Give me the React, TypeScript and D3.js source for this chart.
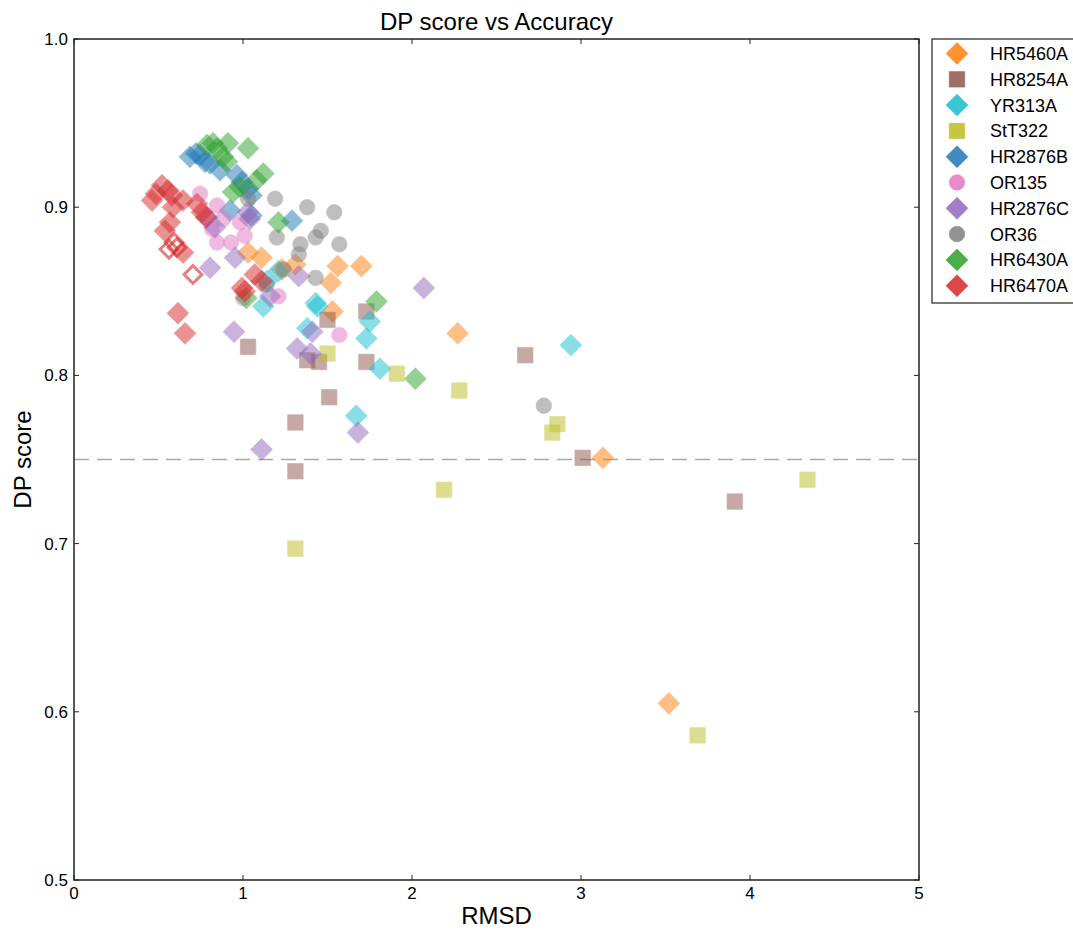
import React from "react";
import * as d3 from "d3";

// RMSD / DP score pairs per target
const hr5460a: [number, number][] = [
  [1.03, 0.873], [1.11, 0.870], [1.23, 0.863], [1.31, 0.866], [1.52, 0.855],
  [1.56, 0.865], [1.70, 0.865], [1.53, 0.838], [2.27, 0.825], [3.13, 0.751],
  [3.52, 0.605],
];
const hr8254a: [number, number][] = [
  [3.91, 0.725], [3.01, 0.751], [2.67, 0.812], [1.73, 0.808], [1.73, 0.838],
  [1.51, 0.787], [1.31, 0.772], [1.31, 0.743], [1.03, 0.817], [1.50, 0.833],
  [1.38, 0.809], [1.45, 0.808],
];
const yr313a: [number, number][] = [
  [2.94, 0.818], [1.81, 0.804], [1.67, 0.776], [1.73, 0.822], [1.75, 0.832],
  [1.44, 0.841], [1.43, 0.843], [1.38, 0.828], [1.12, 0.841], [1.21, 0.862],
  [1.14, 0.856],
];
const stt322: [number, number][] = [
  [4.34, 0.738], [3.69, 0.586], [2.86, 0.771], [2.83, 0.766], [2.28, 0.791],
  [2.19, 0.732], [1.91, 0.801], [1.50, 0.813], [1.31, 0.697],
];
const hr2876b: [number, number][] = [
  [0.686, 0.930], [0.722, 0.932], [0.746, 0.931], [0.775, 0.927], [0.805, 0.926],
  [0.864, 0.922], [0.964, 0.919], [0.994, 0.915], [1.03, 0.911], [1.05, 0.907],
  [0.923, 0.898], [1.29, 0.892], [1.05, 0.895],
];
const or135: [number, number][] = [
  [0.746, 0.908], [0.846, 0.901], [0.882, 0.893], [0.982, 0.891], [1.01, 0.883],
  [0.929, 0.879], [0.846, 0.879], [0.817, 0.887], [1.00, 0.846], [1.21, 0.847],
  [1.57, 0.824],
];
const hr2876c: [number, number][] = [
  [2.07, 0.852], [1.68, 0.766], [1.11, 0.756], [0.947, 0.826], [0.805, 0.864],
  [1.32, 0.816], [1.40, 0.813], [1.41, 0.826], [1.33, 0.859], [1.03, 0.897],
  [1.04, 0.893], [0.953, 0.870], [0.787, 0.894], [0.834, 0.888], [1.16, 0.847],
];
const or36: [number, number][] = [
  [1.19, 0.905], [1.38, 0.900], [1.54, 0.897], [1.46, 0.886], [1.43, 0.882],
  [1.34, 0.878], [1.20, 0.882], [1.33, 0.872], [1.57, 0.878], [1.43, 0.858],
  [1.24, 0.863], [1.14, 0.854], [1.03, 0.905], [2.78, 0.782],
];
const hr6430a: [number, number][] = [
  [0.787, 0.937], [0.822, 0.938], [0.846, 0.935], [0.911, 0.938], [1.03, 0.935],
  [0.882, 0.930], [0.905, 0.927], [1.12, 0.920], [1.08, 0.916], [0.941, 0.909],
  [0.982, 0.912], [1.21, 0.891], [1.79, 0.844], [2.02, 0.798], [1.02, 0.846],
];
const hr6470a: [number, number][] = [
  [0.462, 0.904], [0.485, 0.908], [0.521, 0.913], [0.556, 0.910], [0.580, 0.907],
  [0.645, 0.904], [0.586, 0.900], [0.568, 0.891], [0.538, 0.886], [0.645, 0.873],
  [0.728, 0.902], [0.757, 0.897], [0.781, 0.894], [0.994, 0.852], [1.01, 0.850],
  [0.615, 0.837], [0.657, 0.825], [1.07, 0.860], [1.11, 0.856],
];
// open markers for HR6470A
const hr6470aOpen: [number, number][] = [
  [0.562, 0.875], [0.592, 0.879], [0.609, 0.876], [0.704, 0.860],
];

const xTicks = [0, 1, 2, 3, 4, 5];
const yTicks = [0.5, 0.6, 0.7, 0.8, 0.9, 1.0];
const threshold = 0.75;

type Shape = "diamond" | "square" | "circle";
const seriesList: { name: string; color: string; shape: Shape; data: [number, number][] }[] = [
  { name: "HR5460A", color: "#ff7f0e", shape: "diamond", data: hr5460a },
  { name: "HR8254A", color: "#8c564b", shape: "square", data: hr8254a },
  { name: "YR313A", color: "#17becf", shape: "diamond", data: yr313a },
  { name: "StT322", color: "#bcbd22", shape: "square", data: stt322 },
  { name: "HR2876B", color: "#1f77b4", shape: "diamond", data: hr2876b },
  { name: "OR135", color: "#e377c2", shape: "circle", data: or135 },
  { name: "HR2876C", color: "#9467bd", shape: "diamond", data: hr2876c },
  { name: "OR36", color: "#7f7f7f", shape: "circle", data: or36 },
  { name: "HR6430A", color: "#2ca02c", shape: "diamond", data: hr6430a },
  { name: "HR6470A", color: "#d62728", shape: "diamond", data: hr6470a },
];

const W = 1073;
const H = 930;
const left = 74;
const right = 919;
const top = 39;
const bottom = 880;
const FONT = "'Liberation Sans', Arial, Helvetica, sans-serif";

const x = d3.scaleLinear().domain([0, 5]).range([left, right]);
const y = d3.scaleLinear().domain([0.5, 1.0]).range([bottom, top]);

const side = 15.5;
const squarePath = d3.symbol(d3.symbolSquare, side * side)() as string;
const circlePath = d3.symbol(d3.symbolCircle, Math.PI * 7.8 * 7.8)() as string;

function Marker({ shape, cx, cy, color, opacity, hollow }: {
  shape: Shape; cx: number; cy: number; color: string; opacity: number; hollow?: boolean;
}) {
  const d = shape === "circle" ? circlePath : squarePath;
  const rot = shape === "diamond" ? " rotate(45)" : "";
  const hs = hollow ? side - 3 : side;
  const path = hollow ? (d3.symbol(d3.symbolSquare, hs * hs)() as string) : d;
  return (
    <path
      d={path}
      transform={`translate(${cx},${cy})${rot}`}
      fill={hollow ? "none" : color}
      stroke={color}
      strokeWidth={hollow ? 3 : 0.6}
      opacity={opacity}
    />
  );
}

export default function App() {
  const tickLen = 5;
  const legendX = 932;
  const legendY = 39;
  const rowH = 25.8;
  return (
    <svg width={W} height={H} style={{ position: "absolute", left: 0, top: 0, background: "#fff" }}>
      <rect x={0} y={0} width={W} height={H} fill="#fff" />
      {/* threshold line */}
      <line
        x1={x(0)} x2={x(5)} y1={y(threshold)} y2={y(threshold)}
        stroke="#a8a8a8" strokeWidth={1.5} strokeDasharray="15 8"
      />
      {/* data points */}
      {seriesList.map((s) => (
        <g key={s.name}>
          {s.data.map((p, i) => (
            <Marker key={i} shape={s.shape} cx={x(p[0])} cy={y(p[1])} color={s.color} opacity={0.5} />
          ))}
          {s.name === "HR6470A" &&
            hr6470aOpen.map((p, i) => (
              <Marker key={"o" + i} shape="diamond" cx={x(p[0])} cy={y(p[1])} color={s.color} opacity={0.6} hollow />
            ))}
        </g>
      ))}
      {/* frame */}
      <rect x={left} y={top} width={right - left} height={bottom - top} fill="none" stroke="#222" strokeWidth={1.5} />
      {/* ticks */}
      {xTicks.map((t) => (
        <g key={"x" + t}>
          <line x1={x(t)} x2={x(t)} y1={bottom} y2={bottom - tickLen} stroke="#222" />
          <line x1={x(t)} x2={x(t)} y1={top} y2={top + tickLen} stroke="#222" />
          <text x={x(t)} y={899} textAnchor="middle" fontFamily={FONT} fontSize={17} fill="#000">
            {d3.format("d")(t)}
          </text>
        </g>
      ))}
      {yTicks.map((t) => (
        <g key={"y" + t}>
          <line x1={left} x2={left + tickLen} y1={y(t)} y2={y(t)} stroke="#222" />
          <line x1={right} x2={right - tickLen} y1={y(t)} y2={y(t)} stroke="#222" />
          <text x={68} y={y(t) + 6} textAnchor="end" fontFamily={FONT} fontSize={17} fill="#000">
            {d3.format(".1f")(t)}
          </text>
        </g>
      ))}
      {/* titles */}
      <text x={(left + right) / 2} y={30} textAnchor="middle" fontFamily={FONT} fontSize={24} fill="#000">
        DP score vs Accuracy
      </text>
      <text x={(left + right) / 2} y={924} textAnchor="middle" fontFamily={FONT} fontSize={24} fill="#000">
        RMSD
      </text>
      <text
        transform={`translate(31,${(top + bottom) / 2}) rotate(-90)`}
        textAnchor="middle" fontFamily={FONT} fontSize={24} fill="#000"
      >
        DP score
      </text>
      {/* legend */}
      <rect x={legendX} y={legendY} width={160} height={264} fill="#fff" stroke="#222" strokeWidth={1.2} />
      {seriesList.map((s, i) => {
        const cy = 53.5 + i * rowH;
        return (
          <g key={"l" + s.name}>
            <Marker shape={s.shape} cx={957} cy={cy} color={s.color} opacity={0.85} />
            <text x={990} y={cy + 6.5} fontFamily={FONT} fontSize={18} fill="#000">
              {s.name}
            </text>
          </g>
        );
      })}
    </svg>
  );
}
